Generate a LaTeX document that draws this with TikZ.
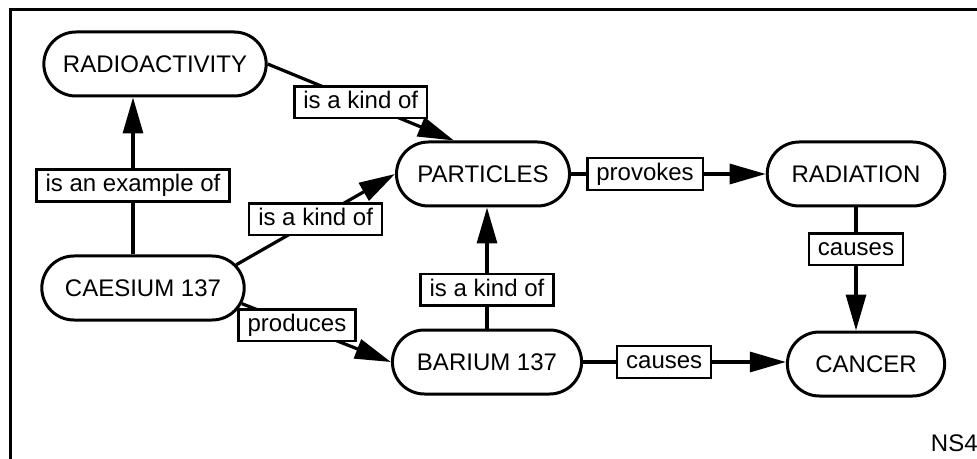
\documentclass[tikz,border=0pt]{standalone}
\usepackage{fontspec}
\setmainfont{Liberation Sans}
\usepackage{tikz}
\usetikzlibrary{shapes.misc, arrows.meta, calc}

\begin{document}
\begin{tikzpicture}[
    x=0.5pt, y=-0.5pt,
    concept/.style={rounded rectangle, draw, line width=1.5pt, fill=white, minimum height=32pt, inner ysep=0pt, inner xsep=10pt, font=\fontsize{12}{14}\selectfont, text=black},
    relation/.style={rectangle, draw, line width=1.2pt, fill=white, text height=9pt, text depth=2.5pt, inner xsep=4.5pt, inner ysep=2.2pt, font=\fontsize{12}{14}\selectfont, text=black},
    arrow/.style={line width=1.6pt, ->, >={Triangle[length=18pt, width=10pt]}},
    plain/.style={line width=1.6pt}
]
\useasboundingbox (0,0) rectangle (977,459);
% frame
\draw[line width=1.5pt] (10,459) -- (10,10) -- (977,10);

% concepts
\node[concept, inner xsep=9pt] (radio) at (155,64) {RADIOACTIVITY};
\node[concept, inner xsep=9.9pt] (part) at (483,174) {PARTICLES};
\node[concept, inner xsep=11.6pt] (radia) at (856,174) {RADIATION};
\node[concept, inner xsep=11pt] (caes) at (143,288) {CAESIUM 137};
\node[concept, inner xsep=11.7pt] (bar) at (487,362) {BARIUM 137};
\node[concept, inner xsep=13.4pt] (canc) at (866,364) {CANCER};

\node[anchor=east, inner sep=0pt, font=\fontsize{12}{14}\selectfont] (tag) at (978,443) {NS4};

% links
\draw[arrow] ([xshift=-5pt]caes.north) -- node[relation, pos=0.44] {is an example of} ([xshift=-5pt]caes.north |- radio.south);
\draw[arrow] (radio.east) -- node[relation, pos=0.5] {is a kind of} (part.131);
\draw[arrow] (caes.14) -- node[relation, pos=0.5] {is a kind of} (part.west);
\draw[arrow] (caes.-9) -- node[relation, pos=0.37] {produces} (bar.west);
\draw[arrow] (bar.north) -- node[relation, pos=0.32] {is a kind of} (bar.north |- part.south);
\draw[arrow] (part.east) -- node[relation, pos=0.38] {provokes} (radia.west);
\draw[arrow] (radia.south) -- node[relation, pos=0.34] {causes} (radia.south |- canc.north);
\draw[arrow] (bar.east) -- node[relation, pos=0.40] {causes} (bar.east -| canc.west);
\end{tikzpicture}
\end{document}
